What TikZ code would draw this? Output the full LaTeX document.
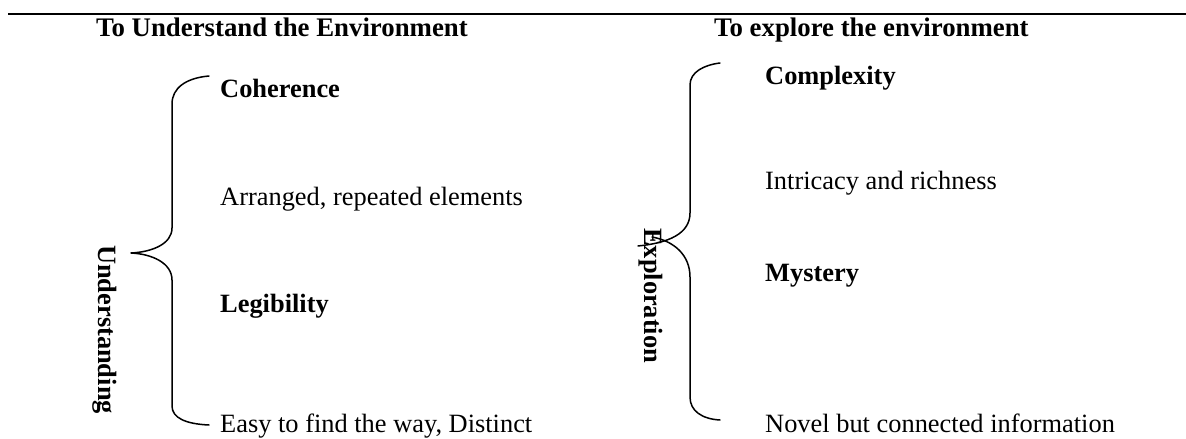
\documentclass[tikz,border=0pt]{standalone}
\usepackage{fontspec}
\setmainfont{Liberation Serif}
\tikzset{
  txt/.style={font=\fontsize{26.4bp}{30bp}\selectfont, anchor=base west, inner sep=0pt},
  bld/.style={font=\fontsize{26.4bp}{30bp}\selectfont\bfseries, anchor=base west, inner sep=0pt},
  ttl/.style={font=\fontsize{26.8bp}{30bp}\selectfont\bfseries, anchor=base west, inner sep=0pt},
  vlab/.style={bld, rotate=-90},
  bracestroke/.style={line width=1.5bp, line cap=round, line join=round},
}
\begin{document}
\begin{tikzpicture}[x=1bp, y=-1bp]
\useasboundingbox (0,0) rectangle (1186,439);
% top rule
\coordinate (ruleL) at (8,14);
\coordinate (ruleR) at (1186,14);
\draw[line width=2.4bp] (ruleL) -- (ruleR);
% titles
\node[ttl] (t1) at (96,37) {To Understand the Environment};
\node[ttl] (t2) at (714,37) {To explore the environment};
% left column
\node[bld] (coh) at (220,98) {Coherence};
\node[txt] (arr) at (220,206) {Arranged, repeated elements};
\node[bld] (leg) at (220,313) {Legibility};
\node[txt] (easy) at (220,433) {Easy to find the way, Distinct};
\node[vlab] (und) at (98,245) {Understanding};
% right column
\node[bld] (cpx) at (765,85) {Complexity};
\node[txt] (intr) at (765,190) {Intricacy and richness};
\node[bld] (mys) at (765,282) {Mystery};
\node[txt] (nov) at (765,433) {Novel but connected information};
\node[vlab] (exp) at (644,228) {Exploration};
% left brace
\draw[bracestroke] (209,76) .. controls (186,78) and (172,88) .. (172,104)
  -- (172,228) .. controls (172,244) and (152,252) .. (131,253)
  .. controls (152,254) and (172,263) .. (172,280)
  -- (172,406) .. controls (172,418) and (186,424) .. (209,425);
% right brace (two halves crossing)
\draw[bracestroke] (720,63) .. controls (704,65) and (690,72) .. (690,85)
  -- (690,213) .. controls (690,234) and (668,243) .. (638,246);
\draw[bracestroke] (652,237) .. controls (674,241) and (690,255) .. (690,277)
  -- (690,397) .. controls (690,411) and (702,419) .. (720,420);
\end{tikzpicture}
\end{document}
